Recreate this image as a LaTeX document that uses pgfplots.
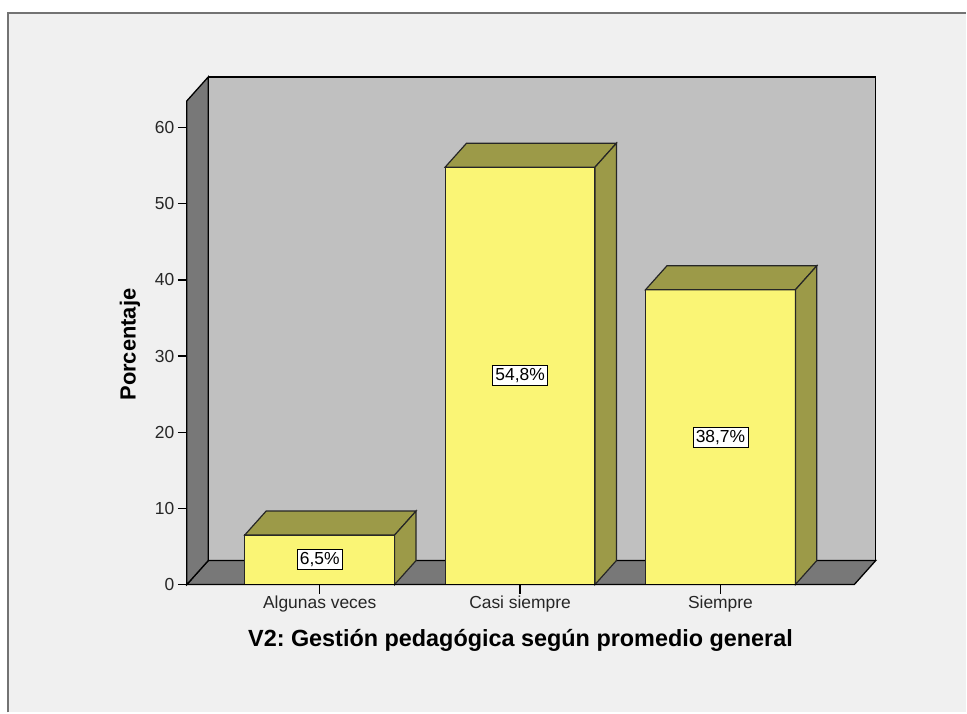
\documentclass[border=0pt]{standalone}
\usepackage{pgfplots}
\pgfplotsset{compat=1.18}
\usepackage{fontspec}
\setmainfont{Liberation Sans}
\frenchspacing
\definecolor{bgc}{HTML}{F0F0F0}
\definecolor{wallc}{HTML}{C0C0C0}
\definecolor{darkwall}{HTML}{787878}
\definecolor{barfront}{HTML}{FAF575}
\definecolor{barside}{HTML}{9C9A48}
\definecolor{edgec}{HTML}{262626}
\begin{document}
\begin{tikzpicture}[x=1bp,y=1bp]
\fill[white] (0,0) rectangle (967,713);
\fill[bgc] (8,0) rectangle (967,700);
\draw[black!55, line width=1.6bp] (8,0) -- (8,700) -- (967,700);
\begin{axis}[
  at={(187bp,128bp)}, anchor=south west,
  scale only axis, width=668bp, height=484bp,
  xmin=-0.663, xmax=2.668, ymin=0, ymax=63.5,
  clip=false, axis on top,
  axis x line*=bottom, axis y line*=left,
  axis line style={-, line width=1.3bp, black},
  ytick={0,10,20,30,40,50,60},
  xtick={0,1,2},
  xticklabels={Algunas veces, Casi siempre, Siempre},
  tick align=outside, major tick length=9bp,
  tick style={black, line width=1.3bp},
  ticklabel style={font=\fontsize{17.5}{20}\selectfont, text=black!85},
  xticklabel style={yshift=1bp},
  yticklabel style={xshift=0bp},
  /pgf/number format/assume math mode=true,
  xlabel={V2: Gestión pedagógica según promedio general},
  ylabel={Porcentaje},
  xlabel style={at={(axis cs:1.002,0)}, anchor=center, yshift=-56bp, font=\bfseries\fontsize{23.5}{27}\selectfont},
  ylabel style={at={(axis cs:-0.663,31.5)}, anchor=center, yshift=57bp, font=\bfseries\fontsize{22}{26}\selectfont},
]
% back wall
\addplot[fill=wallc, draw=black, line width=1.3bp] coordinates {(-0.556,3.15) (2.775,3.15) (2.775,66.65) (-0.556,66.65)} -- cycle;
% floor
\addplot[fill=darkwall, draw=black, line width=1.3bp] coordinates {(-0.663,0) (2.668,0) (2.775,3.15) (-0.556,3.15)} -- cycle;
% left wall
\addplot[fill=darkwall, draw=black, line width=1.3bp] coordinates {(-0.663,0) (-0.556,3.15) (-0.556,66.65) (-0.663,63.5)} -- cycle;
% bar fronts
\addplot[ybar, bar width=0.748, fill=barfront, draw=edgec, line width=1.2bp] coordinates {(0,6.5) (1,54.8) (2,38.7)};
% bar tops
\addplot[fill=barside, draw=edgec, line width=1.2bp] coordinates {(-0.374,6.5) (0.374,6.5) (0.481,9.65) (-0.267,9.65)} -- cycle;
\addplot[fill=barside, draw=edgec, line width=1.2bp] coordinates {(0.626,54.8) (1.374,54.8) (1.481,57.95) (0.733,57.95)} -- cycle;
\addplot[fill=barside, draw=edgec, line width=1.2bp] coordinates {(1.626,38.7) (2.374,38.7) (2.481,41.85) (1.733,41.85)} -- cycle;
% bar sides
\addplot[fill=barside, draw=edgec, line width=1.2bp] coordinates {(0.374,0) (0.481,3.15) (0.481,9.65) (0.374,6.5)} -- cycle;
\addplot[fill=barside, draw=edgec, line width=1.2bp] coordinates {(1.374,0) (1.481,3.15) (1.481,57.95) (1.374,54.8)} -- cycle;
\addplot[fill=barside, draw=edgec, line width=1.2bp] coordinates {(2.374,0) (2.481,3.15) (2.481,41.85) (2.374,38.7)} -- cycle;
% data labels
\node[draw=black, fill=white, line width=0.9bp, inner sep=2.8bp, font=\fontsize{17.5}{20}\selectfont] at (axis cs:0,3.25) {6,5\%};
\node[draw=black, fill=white, line width=0.9bp, inner sep=2.8bp, font=\fontsize{17.5}{20}\selectfont] at (axis cs:1,27.4) {54,8\%};
\node[draw=black, fill=white, line width=0.9bp, inner sep=2.8bp, font=\fontsize{17.5}{20}\selectfont] at (axis cs:2,19.35) {38,7\%};
\end{axis}
\end{tikzpicture}
\end{document}
